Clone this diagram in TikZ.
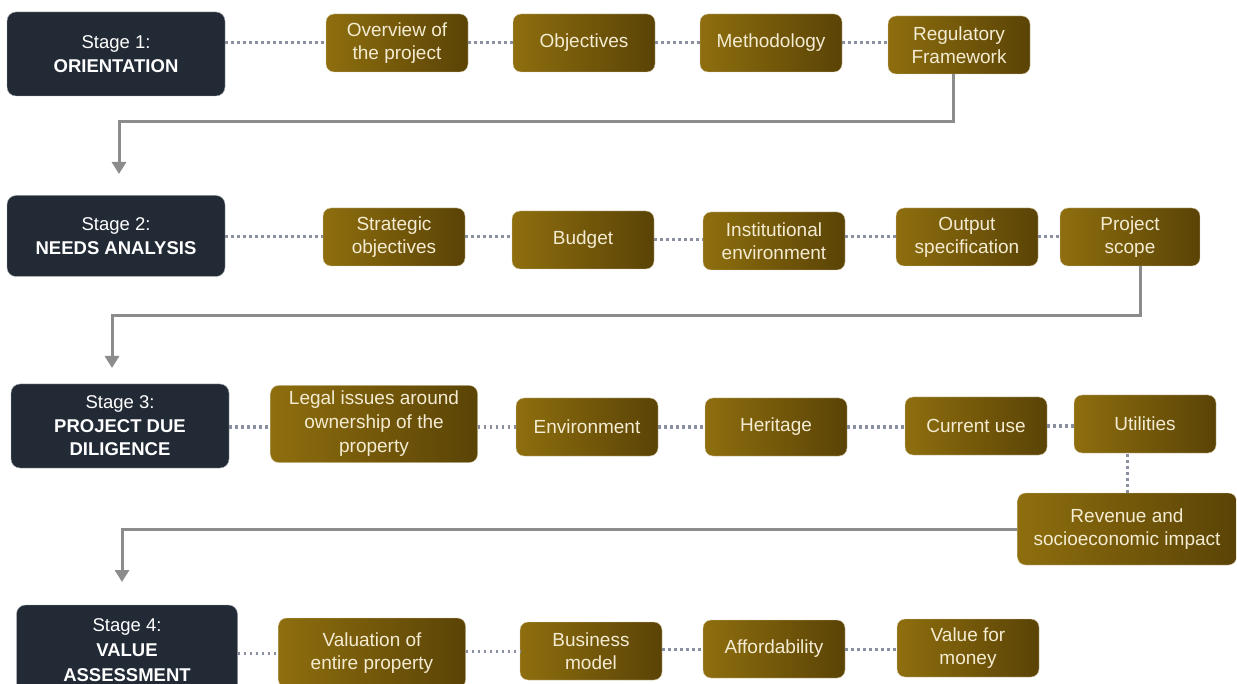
\documentclass[tikz,border=0pt]{standalone}
\usepackage{fontspec}
\setmainfont{Liberation Sans}
\usetikzlibrary{arrows.meta}

\definecolor{stagebg}{HTML}{222A36}
\definecolor{goldA}{HTML}{8E6E0E}
\definecolor{goldB}{HTML}{5A4306}
\definecolor{goldtxt}{HTML}{F4ECD2}
\definecolor{flowgrey}{HTML}{8C8C8C}
\definecolor{dotgrey}{HTML}{8A90A0}

\begin{document}
\begin{tikzpicture}[x=1pt,y=-1pt,
        stage/.style={rectangle,rounded corners=9pt,fill=stagebg,draw=stagebg!40!white,
          text=white,minimum width=218pt,minimum height=84pt,align=center,
          font=\fontsize{18.5}{24}\selectfont},
        task/.style={rectangle,rounded corners=8pt,left color=goldA,right color=goldB,
          draw=goldA!35!white,text=goldtxt,minimum width=142pt,minimum height=58pt,
          align=center,font=\fontsize{19}{23}\selectfont},
        link/.style={dotgrey,line width=3pt,dash pattern=on 2.5pt off 3.5pt},
        flow/.style={-{Triangle[width=14pt,length=12pt]},flowgrey,line width=3pt}]

  \fill[white] (0,0) rectangle (1237,684);
  \useasboundingbox (0,0) rectangle (1237,684);
  \clip (0,0) rectangle (1237,684);

  % stage 1
  \node[stage] (s1) at (116,54) {Stage 1:\\\textbf{ORIENTATION}};
  \node[task] (o1) at (397,43) {Overview of\\the project};
  \node[task] (o2) at (584,43) {Objectives};
  \node[task] (o3) at (771,43) {Methodology};
  \node[task] (o4) at (959,45) {Regulatory\\Framework};

  % stage 2
  \node[stage,minimum height=81pt] (s2) at (116,236) {Stage 2:\\\textbf{NEEDS ANALYSIS}};
  \node[task] (n1) at (394,237) {Strategic\\objectives};
  \node[task] (n2) at (583,240) {Budget};
  \node[task] (n3) at (774,241) {Institutional\\environment};
  \node[task] (n4) at (967,237) {Output\\specification};
  \node[task,minimum width=140pt] (n5) at (1130,237) {Project\\scope};

  % stage 3
  \node[stage,font=\fontsize{18.5}{23.5}\selectfont] (s3) at (120,426)
    {Stage 3:\\\textbf{PROJECT DUE}\\\textbf{DILIGENCE}};
  \node[task,minimum width=207pt,minimum height=77pt,font=\fontsize{19}{24}\selectfont] (d1) at (374,424)
    {Legal issues around\\ownership of the\\property};
  \node[task] (d2) at (587,427) {Environment};
  \node[task] (d3) at (776,427) {Heritage};
  \node[task] (d4) at (976,426) {Current use};
  \node[task] (d5) at (1145,424) {Utilities};
  \node[task,minimum width=219pt,minimum height=72pt] (d6) at (1127,529)
    {Revenue and\\socioeconomic impact};

  % stage 4
  \node[stage,minimum width=221pt,minimum height=90pt,font=\fontsize{18.5}{25}\selectfont] (s4) at (127,650)
    {Stage 4:\\\textbf{VALUE}\\\textbf{ASSESSMENT}};
  \node[task,minimum width=187pt,minimum height=70pt] (v1) at (372,653) {Valuation of\\entire property};
  \node[task] (v2) at (591,651) {Business\\model};
  \node[task] (v3) at (774,649) {Affordability};
  \node[task] (v4) at (968,648) {Value for\\money};

  % dotted links
  \draw[link] (s1.east |- o1) -- (o1.west);
  \draw[link] (o1) -- (o2);
  \draw[link] (o2) -- (o3);
  \draw[link] (o3.east) -- (o3.east -| o4.west);
  \draw[link] (s2.east |- n1) -- (n1.west);
  \draw[link] (n1.east) -- (n1.east -| n2.west);
  \draw[link] (n2.east) -- (n2.east -| n3.west);
  \draw[link] (n3.east |- n4) -- (n4.west);
  \draw[link] (n4) -- (n5);
  \draw[link] (s3.east |- d2) -- (d1.west |- d2);
  \draw[link] (d1.east |- d2) -- (d2.west);
  \draw[link] (d2) -- (d3);
  \draw[link] (d3.east) -- (d3.east -| d4.west);
  \draw[link] (d4.east) -- (d4.east -| d5.west);
  \draw[link] (d6.north) -- (d6.north |- d5.south);
  \draw[link] (s4.east |- v1) -- (v1.west);
  \draw[link] (v1.east |- v2) -- (v2.west);
  \draw[link] (v2.east |- v3) -- (v3.west);
  \draw[link] (v3.east) -- (v3.east -| v4.west);

  % flow between stages
  \coordinate (t1) at (119,122);
  \coordinate (a1) at (119,174);
  \coordinate (t2) at (112,316);
  \coordinate (a2) at (112,368);
  \coordinate (t3) at (122,529);
  \coordinate (a3) at (122,582);
  \draw[flow] ([xshift=-6pt]o4.south) |- (t1) -- (a1);
  \draw[flow] ([xshift=10pt]n5.south) |- (t2) -- (a2);
  \draw[flow] (d6.west) -- (t3) -- (a3);

\end{tikzpicture}
\end{document}
